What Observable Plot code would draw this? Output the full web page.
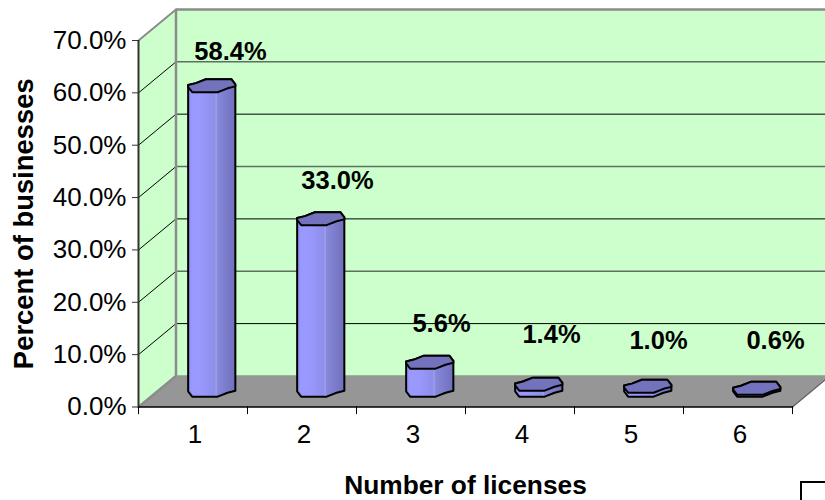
<!DOCTYPE html>
<html>
<head>
<meta charset="utf-8">
<script src="https://cdn.jsdelivr.net/npm/d3@7"></script>
<script src="https://cdn.jsdelivr.net/npm/@observablehq/plot@0.6"></script>
<style>
html,body{margin:0;padding:0;background:#fff;width:825px;height:500px;overflow:hidden;position:relative}
#chart svg{display:block}
#legendKey{position:absolute;left:800px;top:481px;width:60px;height:60px;border:2px solid #000;background:#fff}
</style>
</head>
<body>
<div id="chart"></div>
<div id="legendKey"></div>
<script>
const categories = [1, 2, 3, 4, 5, 6];
const percentValues = [58.4, 33.0, 5.6, 1.4, 1.0, 0.6];
const percentTicks = [0, 10, 20, 30, 40, 50, 60, 70];
const xBoundaries = [0.5, 1.5, 2.5, 3.5, 4.5, 5.5, 6.5];
const valueLabels = ["58.4%", "33.0%", "5.6%", "1.4%", "1.0%", "0.6%"];
const labelNudgeX = [0, -2, -7, -6, -8, 0];
const labelNudgeY = [-18, -22, -23, -34, -30, -32];

// oblique-projection depth of the chart box, in scale units
const depthX = 0.344, depthY = 5.93;
// bar cross-section outline, normalised: back side left-to-right, then front side right-to-left
const profileBack = [[-1,-.1],[-.67,-.4],[-.25,-1],[.83,-1],[1,-.2]];
const profileFront = [[1,.1],[.67,.4],[.25,1],[-.83,1],[-1,.2]];
const halfW = 0.2165, halfH = 1.24, base = 0.25;

const xMin = 0.5, xMax = 6.5, yMax = 70;
const P = (x, y, d = 0) => ({x: x + d * depthX, y: y + d * depthY});
const poly = (pts, o) => Plot.line(pts, {x: "x", y: "y", curve: "linear-closed", ...o});
const seg = (pts, o) => Plot.line(pts, {x: "x", y: "y", ...o});

const outline = (cat, v, prof) => prof.map(([u, w]) => ({
  x: cat + depthX / 2 + u * halfW,
  y: v + depthY / 2 - w * halfH
}));
const section = (cat, v) => outline(cat, v, [...profileBack, ...profileFront]);
const silhouette = (cat, v) => [...outline(cat, v, profileBack), ...outline(cat, base, profileFront)];

const gradient = () => {
  const defs = d3.create("svg:defs");
  const g = defs.append("linearGradient").attr("id", "barSide");
  [[0,"#8c8ce8"],[.08,"#9999ff"],[.3,"#9898fc"],[.55,"#8e8eea"],[.6,"#9c9cea"],[.62,"#8888dc"],[.8,"#7c7ccc"],[1,"#7070bc"]]
    .forEach(([o, c]) => g.append("stop").attr("offset", o).attr("stop-color", c));
  return defs.node();
};

const marks = [
  gradient,
  // walls and floor
  poly([P(xMin,0),P(xMin,0,1),P(xMin,yMax,1),P(xMin,yMax)], {fill: "#ccffcc", stroke: "none"}),
  poly([P(xMin,0,1),P(xMax,0,1),P(xMax,yMax,1),P(xMin,yMax,1)], {fill: "#ccffcc", stroke: "none"}),
  poly([P(xMin,0),P(xMax,0),P(xMax,0,1),P(xMin,0,1)], {fill: "#969696", stroke: "none"}),
  // grid
  ...percentTicks.filter(t => t > 0 && t < 70).flatMap(t => [
    seg([P(xMin,t),P(xMin,t,1)], {stroke: "#000", strokeWidth: 1}),
    seg([P(xMin,t,1),P(xMax,t,1)], {stroke: t % 20 === 0 ? "#5f6f5f" : "#000", strokeWidth: t % 20 === 0 ? 1.6 : 1})
  ]),
  // box edges
  seg([P(xMin,0),P(xMin,0,1),P(xMin,yMax,1),P(xMax,yMax,1)], {stroke: "#8c8c8c", strokeWidth: 2.5, strokeLinejoin: "miter"}),
  seg([P(xMin,yMax),P(xMin,yMax,1)], {stroke: "#8c8c8c", strokeWidth: 2}),
  seg([P(xMin,0,1),P(xMax,0,1)], {stroke: "#8c9a8c", strokeWidth: 1.5}),
  seg([P(xMax,0),P(xMax,0,1)], {stroke: "#606060", strokeWidth: 1.2}),
  // bars
  ...categories.flatMap((c, i) => [
    poly(silhouette(c, percentValues[i]), {fill: "url(#barSide)", stroke: "#000", strokeWidth: 2, strokeLinejoin: "round"}),
    poly(section(c, percentValues[i]), {fill: "#7272bd", stroke: "#000", strokeWidth: 2, strokeLinejoin: "round"})
  ]),
  // axes
  Plot.ruleX(xBoundaries, {y1: 0, y2: -1.45, stroke: "#000", strokeWidth: 1}),
  Plot.axisX(categories, {
    tickSize: 0, tickPadding: 18, label: null, fontSize: 26, anchor: "bottom",
    tickFormat: d => String(d), dx: 2, fill: "#000"
  }),
  seg([P(xMin,0),P(xMax,0)], {stroke: "#000", strokeWidth: 1.5}),
  Plot.axisY(percentTicks, {
    tickSize: 6, tickPadding: 6, label: null, fontSize: 26, anchor: "left",
    tickFormat: d => d.toFixed(1) + "%", stroke: "#333", fill: "#000"
  }),
  Plot.ruleX([xMin], {y1: 0, y2: yMax, stroke: "#333", strokeWidth: 2}),
  // titles
  Plot.text(["Percent of businesses"], {frameAnchor: "left", textAnchor: "middle", rotate: -90, dx: -114, fontSize: 27.4, fontWeight: "bold", fill: "#000"}),
  Plot.text(["Number of licenses"], {frameAnchor: "bottom", dy: 87, fontSize: 26.3, fontWeight: "bold", fill: "#000"}),
  // value labels
  ...categories.map((c, i) => Plot.text([valueLabels[i]], {
    x: () => c + depthX, y: () => percentValues[i] + depthY,
    dx: labelNudgeX[i], dy: labelNudgeY[i],
    fontSize: 25.5, fontWeight: "bold", fill: "#000"
  }))
];

const chart = Plot.plot({
  width: 825, height: 500,
  marginLeft: 138, marginRight: 33, marginTop: 40, marginBottom: 93.5,
  style: {fontFamily: "'Liberation Sans', Arial, sans-serif", background: "transparent", color: "#000", overflow: "hidden"},
  x: {type: "linear", domain: [xMin, xMax], axis: null},
  y: {type: "linear", domain: [0, yMax], axis: null},
  marks
});
document.getElementById("chart").append(chart);
</script>
</body>
</html>
